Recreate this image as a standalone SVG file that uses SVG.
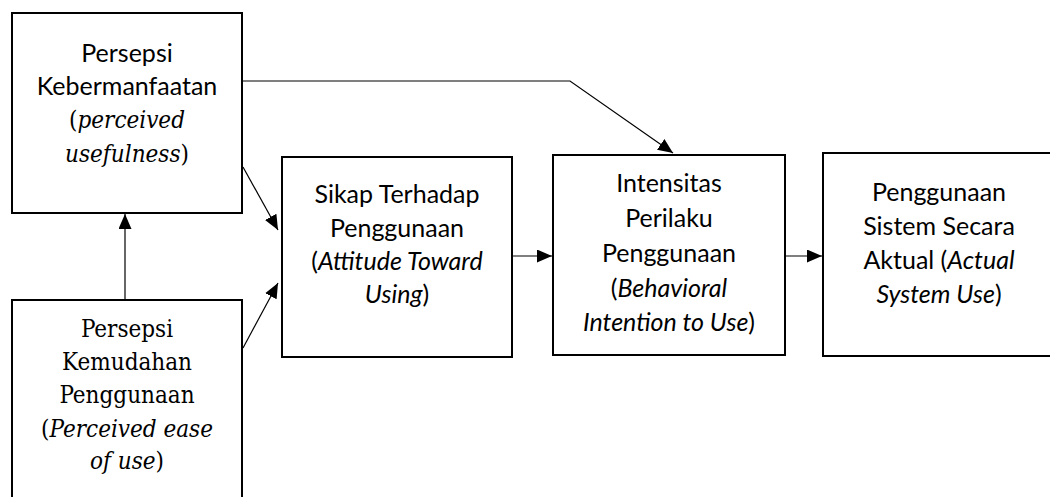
<svg xmlns="http://www.w3.org/2000/svg" width="1050" height="497" viewBox="0 0 1050 497">
<style>
.box{fill:#fff;stroke:#000;stroke-width:2}
.con{fill:none;stroke:#000;stroke-width:1.2}
.tsans{font-family:Lato,"Liberation Sans",sans-serif;font-size:25px;fill:#000;text-anchor:middle}
.tserif{font-family:'DejaVu Serif Condensed','DejaVu Serif','Liberation Serif',serif;font-stretch:semi-condensed;font-size:24px;fill:#000;text-anchor:middle}
.it{font-style:italic}
</style>
<defs>
<marker id="ah" viewBox="0 0 15 13" refX="15" refY="6.5" markerWidth="15" markerHeight="13" markerUnits="userSpaceOnUse" orient="auto">
<path d="M0,0 L15,6.5 L0,13 Z" fill="#000"/>
</marker>
</defs>
<g id="connectors">
<line class="con" x1="125" y1="299" x2="125" y2="214" marker-end="url(#ah)"/>
<line class="con" x1="243" y1="167" x2="278" y2="230" marker-end="url(#ah)"/>
<line class="con" x1="243" y1="348" x2="278" y2="283" marker-end="url(#ah)"/>
<polyline class="con" points="243,81 570,81 673,153" marker-end="url(#ah)"/>
<line class="con" x1="513" y1="256" x2="552" y2="256" marker-end="url(#ah)"/>
<line class="con" x1="785" y1="256" x2="822" y2="256" marker-end="url(#ah)"/>
</g>
<g id="node-pu">
<rect class="box" x="12" y="13" width="230" height="200"/>
<text class="tsans" x="127" y="62">Persepsi</text>
<text class="tsans" x="127" y="95">Kebermanfaatan</text>
<text class="tserif" x="127" y="128">(<tspan class="it">perceived</tspan></text>
<text class="tserif" x="127" y="162"><tspan class="it">usefulness</tspan>)</text>
</g>
<g id="node-peou">
<rect class="box" x="12" y="300" width="230" height="210"/>
<text class="tserif" x="127" y="337">Persepsi</text>
<text class="tserif" x="127" y="370">Kemudahan</text>
<text class="tserif" x="127" y="403">Penggunaan</text>
<text class="tserif" x="127" y="437">(<tspan class="it">Perceived ease</tspan></text>
<text class="tserif" x="127" y="469"><tspan class="it">of use</tspan>)</text>
</g>
<g id="node-atu">
<rect class="box" x="282" y="157" width="230" height="200"/>
<text class="tsans" x="397" y="203">Sikap Terhadap</text>
<text class="tsans" x="397" y="237">Penggunaan</text>
<text class="tsans" x="397" y="270">(<tspan class="it">Attitude Toward</tspan></text>
<text class="tsans" x="397" y="303"><tspan class="it">Using</tspan>)</text>
</g>
<g id="node-bi">
<rect class="box" x="553" y="155" width="232" height="200"/>
<text class="tsans" x="669" y="192">Intensitas</text>
<text class="tsans" x="669" y="227">Perilaku</text>
<text class="tsans" x="669" y="262">Penggunaan</text>
<text class="tsans" x="669" y="297">(<tspan class="it">Behavioral</tspan></text>
<text class="tsans" x="669" y="331"><tspan class="it">Intention to Use</tspan>)</text>
</g>
<g id="node-asu">
<rect class="box" x="823" y="153" width="233" height="203"/>
<text class="tsans" x="939" y="201">Penggunaan</text>
<text class="tsans" x="939" y="235">Sistem Secara</text>
<text class="tsans" x="939" y="269">Aktual (<tspan class="it">Actual</tspan></text>
<text class="tsans" x="939" y="303"><tspan class="it">System Use</tspan>)</text>
</g>
</svg>
